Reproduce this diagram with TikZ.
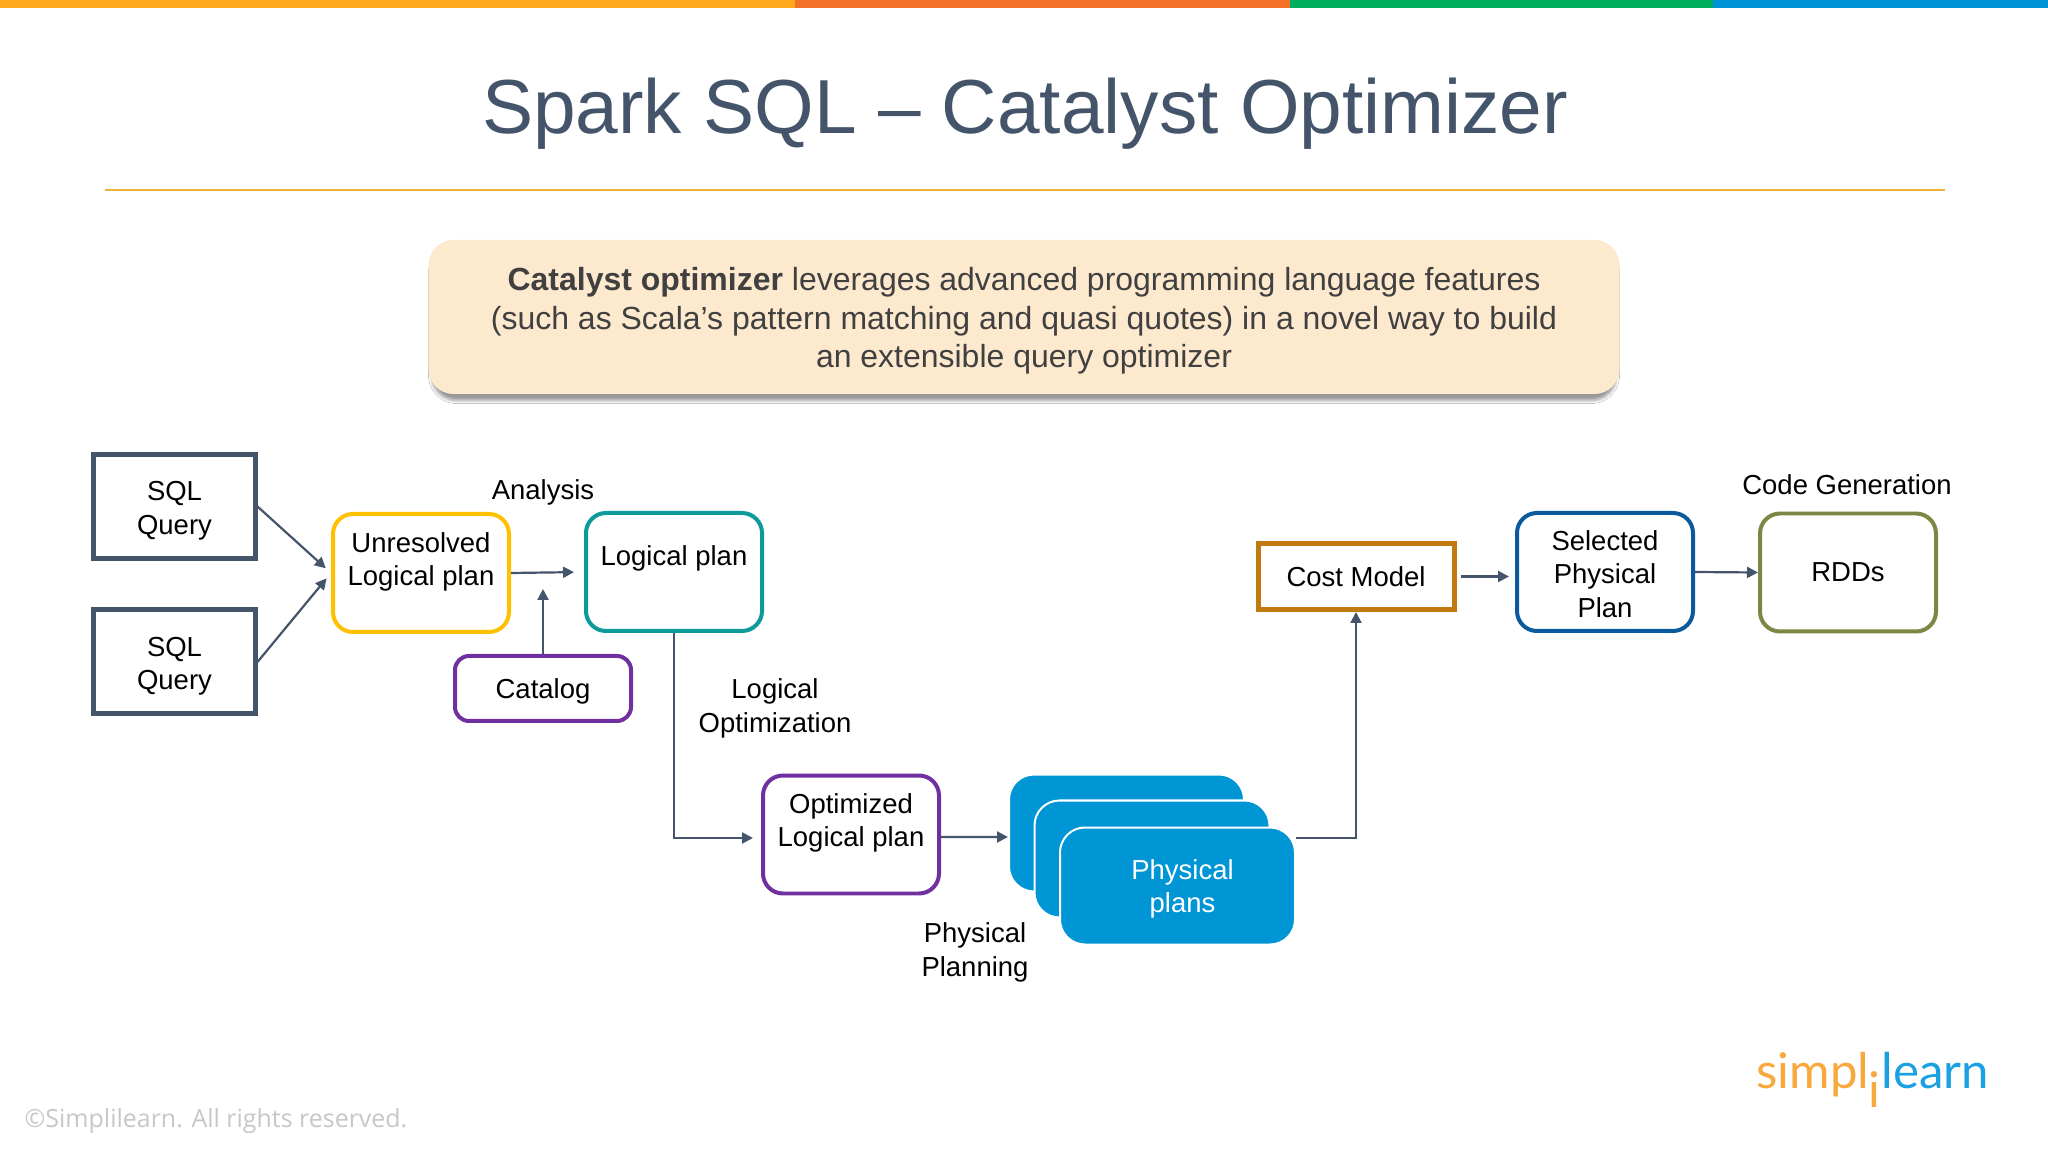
\documentclass[tikz,border=0pt]{standalone}
\usepackage{fontspec}
\usepackage{xcolor}
\setmainfont{Liberation Sans}
\newfontfamily\footfont{Open Sans}
\newfontfamily\logofont{Lato}
\usetikzlibrary{arrows.meta,calc,shadows.blur}
\definecolor{slate}{HTML}{44546A}
\definecolor{cream}{HTML}{FDE9CE}
\definecolor{skyblue}{HTML}{0096D6}
\definecolor{amber}{HTML}{FFC000}
\definecolor{tealbox}{HTML}{0E9A9A}
\definecolor{purplebox}{HTML}{7030A0}
\definecolor{ochre}{HTML}{C07A10}
\definecolor{navybox}{HTML}{0A5A9E}
\definecolor{olivebox}{HTML}{7C8743}
\definecolor{rulecol}{HTML}{F0B040}
\definecolor{logoorange}{HTML}{F9A83C}
\definecolor{logoblue}{HTML}{1BA1E2}
\newcommand{\topgap}[1]{\rule{0pt}{#1}}
\tikzset{
	boxtext/.style={font=\fontsize{7.82}{9.5}\selectfont, align=center, inner sep=0pt},
	drop/.style={execute at begin node=\rule{0pt}{#1}},
	plan/.style={boxtext, draw=#1, fill=white, line width=0.04cm, rounded corners=0.2cm,
			minimum width=1.76cm, minimum height=1.18cm},
	sqlbox/.style={boxtext, draw=slate, fill=white, line width=0.05cm,
			minimum width=1.61cm, minimum height=1.04cm},
	stack/.style={boxtext, draw=white, fill=skyblue, text=white, line width=0.02cm,
			rounded corners=0.25cm, minimum width=2.35cm, minimum height=1.17cm},
	phase/.style={boxtext, drop=0.26cm, text=black},
	logotext/.style={inner sep=0pt, font=\logofont\fontsize{14}{16}\selectfont},
	flow/.style={draw=slate, line width=0.022cm, -{Triangle[length=0.11cm,width=0.11cm]}}
}

\begin{document}
\begin{tikzpicture}
	\useasboundingbox (0,0) rectangle (20.48,-11.52);
	\fill[white] (0,0) rectangle (20.48,-11.52);

	\foreach \xa/\xb/\barcol in {0/7.95/FFA81C, 7.95/12.9/F5712A, 12.9/17.13/00AE5E, 17.13/20.48/0093D6} {
		\definecolor{barcol}{HTML}{\barcol}
		\fill[barcol] (\xa,0) rectangle (\xb,-0.08);
	}

	\node[anchor=base, text=slate, font=\fontsize{21.8}{26}\selectfont, inner sep=0pt] (title) at (10.25,-1.34) {Spark SQL -- Catalyst Optimizer};
	\draw[color=rulecol, line width=0.02cm] (1.045,-1.9) -- (19.45,-1.9);

	\node[draw=none, fill=cream, rounded corners=0.25cm, minimum width=11.91cm, minimum height=1.54cm, inner sep=0pt,
		align=center, text=black!75, font=\fontsize{9.1}{11}\selectfont,
		blur shadow={shadow xshift=0cm, shadow yshift=-0.07cm, shadow scale=0.995, shadow blur steps=6, shadow blur radius=0.03cm, shadow opacity=40}] (intro) at (10.24,-3.17)
		{\topgap{0.31cm}\textbf{Catalyst optimizer} leverages advanced programming language features\\(such as Scala’s pattern matching and quasi quotes) in a novel way to build\\an extensible query optimizer};

	\node[sqlbox] (sqla) at (1.745,-5.065) {\topgap{0.28cm}SQL\\Query};
	\node[sqlbox] (sqlb) at (1.745,-6.62) {\topgap{0.28cm}SQL\\Query};
	\node[plan=amber] (unresolved) at (4.21,-5.73) {\topgap{0.25cm}Unresolved\\Logical plan\\\mbox{}};
	\node[plan=tealbox, drop=0.26cm] (logical) at (6.74,-5.72) {Logical plan\\\mbox{}};
	\node[plan=purplebox, drop=0.26cm, minimum height=0.65cm, rounded corners=0.14cm] (catalog) at (5.43,-6.885) {Catalog};
	\node[plan=purplebox] (optimized) at (8.51,-8.345) {\topgap{0.25cm}Optimized\\Logical plan\\\mbox{}};
	\node[stack] (planc) at (11.265,-8.33) {};
	\node[stack] (planb) at (11.52,-8.59) {};
	\node[stack] (plana) at (11.775,-8.86) {\topgap{0.26cm}\hspace*{0.1cm}Physical\\\hspace*{0.1cm}plans};
	\node[boxtext, draw=ochre, fill=white, line width=0.05cm, minimum width=1.96cm, minimum height=0.66cm] (cost) at (13.56,-5.765) {Cost Model};
	\node[plan=navybox] (selected) at (16.05,-5.72) {\topgap{0.24cm}Selected\\Physical\\Plan};
	\node[plan=olivebox] (rdds) at (18.48,-5.725) {RDDs};

	\node[phase] (analysis) at (5.43,-4.895) {Analysis};
	\node[phase] (logopt) at (7.75,-7.085) {Logical\\Optimization};
	\node[phase] (physplan) at (9.75,-9.525) {Physical\\Planning};
	\node[phase] (codegen) at (18.47,-4.815) {Code Generation};

	\coordinate (cataloghead) at (5.43,-5.89);

	\draw[flow, shorten >=0.07cm] (sqla.east) -- (unresolved.west);
	\draw[flow, shorten >=0.07cm] (sqlb.east) -- (unresolved.west);
	\draw[flow, shorten >=0.1cm] (unresolved.east) -- (logical.west);
	\draw[flow] (catalog.north) -- (cataloghead);
	\draw[flow, shorten >=0.08cm] (logical.south) |- ([yshift=-0.035cm]optimized.west);
	\draw[flow] ([yshift=-0.025cm]optimized.east) -- (planc.west |- 0,-8.37);
	\draw[flow] ([yshift=0.48cm]plana.east) -| (cost.south);
	\draw[flow, shorten <=0.04cm, shorten >=0.06cm] (cost.east) -- (selected.west |- cost.east);
	\draw[flow] (selected.east) -- (rdds.west);

	\node[anchor=base west, inner sep=0pt, text=black!22, font=\footfont\fontsize{7.1}{8}\selectfont] (rights) at (0.24,-11.27) {©Simplilearn. All rights reserved.};

	\node[logotext, anchor=base east, text=logoorange] (logoa) at (18.7,-10.88) {simpl};
	\node[logotext, anchor=base, text=logoorange] (logob) at (18.74,-11.07) {i};
	\node[logotext, anchor=base west, text=logoblue] (logoc) at (18.81,-10.88) {learn};
\end{tikzpicture}
\end{document}
